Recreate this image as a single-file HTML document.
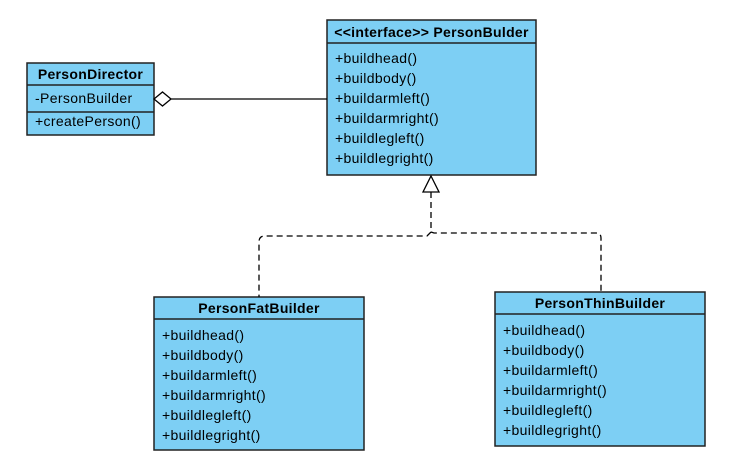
<!DOCTYPE html>
<html><head><meta charset="utf-8"><style>
html,body{margin:0;padding:0;background:#fff;}
svg{display:block;}
text{font-family:"Liberation Sans",Arial,sans-serif;font-size:14px;fill:#000;letter-spacing:0.35px;}
.b{font-weight:bold;letter-spacing:0.3px;}
</style></head><body>
<svg width="754" height="469" viewBox="0 0 754 469" xmlns="http://www.w3.org/2000/svg">
<g stroke="#222" stroke-width="1.5" fill="#7dcff4">
<rect x="27" y="63" width="127" height="72"/>
<line x1="27" y1="85" x2="154" y2="85"/>
<line x1="27" y1="112" x2="154" y2="112"/>
<rect x="327" y="20" width="209" height="155"/>
<line x1="327" y1="43" x2="536" y2="43"/>
<rect x="154" y="297" width="210" height="153"/>
<line x1="154" y1="319" x2="364" y2="319"/>
<rect x="495" y="292" width="210" height="154"/>
<line x1="495" y1="314" x2="705" y2="314"/>
</g>
<g stroke="#000" stroke-width="1.3" fill="none">
<line x1="171" y1="99" x2="327" y2="99"/>
<polygon points="154,99 162.5,92 171,99 162.5,106" fill="#fff"/>
<polygon points="431,176 439,192 423,192" fill="#fff"/>
<path d="M431,192 V232 L427,236 H265 Q259,236 259,242 V297" stroke-dasharray="6,4"/>
<path d="M431,232 L434,233 H596 Q601,233 601,238 V292" stroke-dasharray="6,4"/>
</g>
<text x="90.5" y="79" text-anchor="middle" class="b">PersonDirector</text>
<text x="35" y="103">-PersonBuilder</text>
<text x="35" y="126">+createPerson()</text>
<text x="431.5" y="37" text-anchor="middle" class="b">&lt;&lt;interface&gt;&gt; PersonBulder</text>
<text x="335" y="63">+buildhead()</text>
<text x="335" y="83">+buildbody()</text>
<text x="335" y="103">+buildarmleft()</text>
<text x="335" y="123">+buildarmright()</text>
<text x="335" y="143">+buildlegleft()</text>
<text x="335" y="163">+buildlegright()</text>
<text x="259" y="313" text-anchor="middle" class="b">PersonFatBuilder</text>
<text x="162" y="340">+buildhead()</text>
<text x="162" y="360">+buildbody()</text>
<text x="162" y="380">+buildarmleft()</text>
<text x="162" y="400">+buildarmright()</text>
<text x="162" y="420">+buildlegleft()</text>
<text x="162" y="440">+buildlegright()</text>
<text x="600" y="308" text-anchor="middle" class="b">PersonThinBuilder</text>
<text x="503" y="335">+buildhead()</text>
<text x="503" y="355">+buildbody()</text>
<text x="503" y="375">+buildarmleft()</text>
<text x="503" y="395">+buildarmright()</text>
<text x="503" y="415">+buildlegleft()</text>
<text x="503" y="435">+buildlegright()</text>
</svg>
</body></html>
